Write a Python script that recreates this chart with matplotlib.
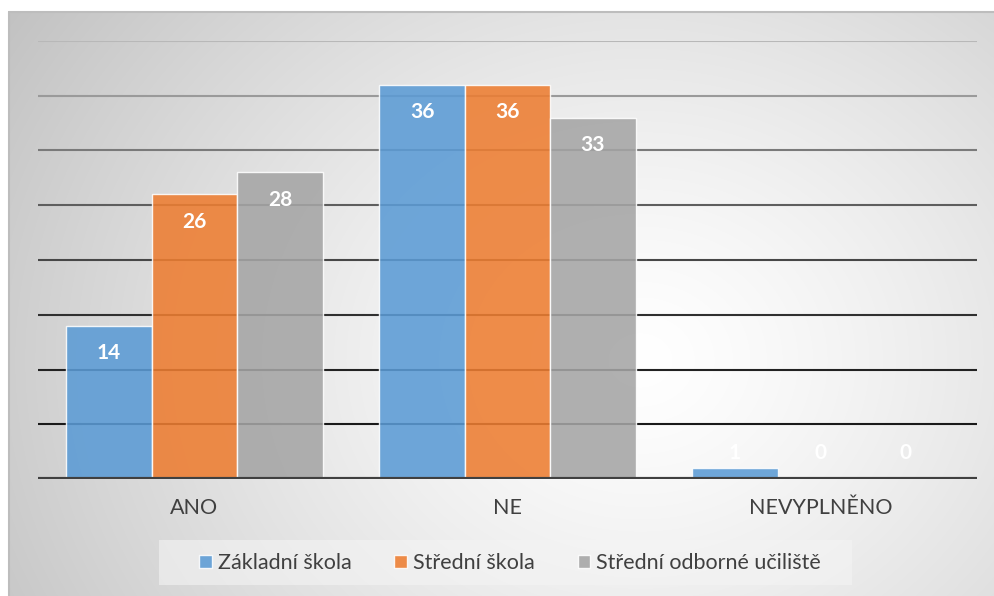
import numpy as np
import matplotlib
matplotlib.use("Agg")
import matplotlib.pyplot as plt
from matplotlib.patches import Rectangle

plt.rcParams['font.family'] = ['Lato', 'DejaVu Sans']

categories = ["ANO", "NE", "NEVYPLNĚNO"]
series_names = ["Základní škola", "Střední škola", "Střední odborné učiliště"]
zakladni = [14, 36, 1]
stredni = [26, 36, 0]
sou = [28, 33, 0]
series_values = [zakladni, stredni, sou]
colors = ["#5b9bd5", "#ed7d31", "#a5a5a5"]

W, H = 995, 596
fig = plt.figure(figsize=(W / 100, H / 100), dpi=100)
fig.patch.set_facecolor("white")

# background gradient panel
bx0, by0 = 8, 11
bg = fig.add_axes([bx0 / W, 0, 1 - bx0 / W, 1 - by0 / H], zorder=-5)
yy, xx = np.mgrid[by0:H, bx0:W]
cx, cy = 640, 360
r = np.sqrt(((xx - cx) / 1.0) ** 2 + ((yy - cy) / 0.85) ** 2)
R = np.sqrt((cx - bx0) ** 2 + ((cy - by0) / 0.85) ** 2)
val = 1 - 0.24 * np.clip(r / R, 0, 1) ** 1.3
img = np.dstack([val, val, val])
bg.imshow(img, extent=[bx0, W, H, by0], aspect='auto', interpolation='bilinear')
bg.set_xlim(bx0, W)
bg.set_ylim(H, by0)
bg.axis('off')
bg.plot([bx0 + 0.5, bx0 + 0.5, W], [H, by0 + 0.5, by0 + 0.5], color="#bdbdbd", lw=1.5, clip_on=False)

# main axes
left, right = 38 / W, 977 / W
bottom, top = 1 - 479 / H, 1 - 41 / H
ax = fig.add_axes([left, bottom, right - left, top - bottom])
ax.set_facecolor("none")
for s in ax.spines.values():
    s.set_visible(False)

x = np.arange(len(categories))
bw = 0.273
ax.set_xlim(-0.5, len(categories) - 0.5)
ax.set_ylim(0, 40)

grid_levels = [5, 10, 15, 20, 25, 30, 35, 40]
grid_colors = ["#1a1a1a", "#222222", "#303030", "#474747", "#5e5e5e", "#7a7a7a", "#9a9a9a", "#b8b8b8"]
for g, c in zip(grid_levels, grid_colors):
    ax.axhline(g, color=c, lw=1.5, zorder=1)
ax.axhline(0, color="#404040", lw=3, zorder=4)

for i, (name, vals, col) in enumerate(zip(series_names, series_values, colors)):
    pos = x + (i - 1) * bw
    ax.bar(pos, vals, width=bw, color=col, alpha=0.88, edgecolor=(1, 1, 1, 0.6),
           linewidth=1, zorder=2, label=name)
    for p, v in zip(pos, vals):
        ly = v - 2.5 if v >= 5 else 2.4
        ax.text(p, ly, str(v), ha='center', va='center', color='white',
                fontsize=15, fontweight='bold', zorder=5)

ax.set_yticks([])
ax.set_xticks(x)
ax.set_xticklabels(categories, fontsize=15.5, color="#404040")
ax.tick_params(axis='x', length=0, pad=14)

# legend box
lg_box = Rectangle((159 / W, 1 - 585 / H), (852 - 159) / W, 45 / H, transform=fig.transFigure,
                   facecolor="#f4f4f4", alpha=0.6, edgecolor='none', zorder=-1)
fig.patches.append(lg_box)
leg = fig.legend(loc='center', bbox_to_anchor=(510 / W, 1 - 563 / H), ncol=3, frameon=False,
                 fontsize=15.5, handlelength=0.6, handleheight=0.6, handletextpad=0.25,
                 columnspacing=2.0, labelcolor="#404040")

fig.savefig("out.png", dpi=100)
